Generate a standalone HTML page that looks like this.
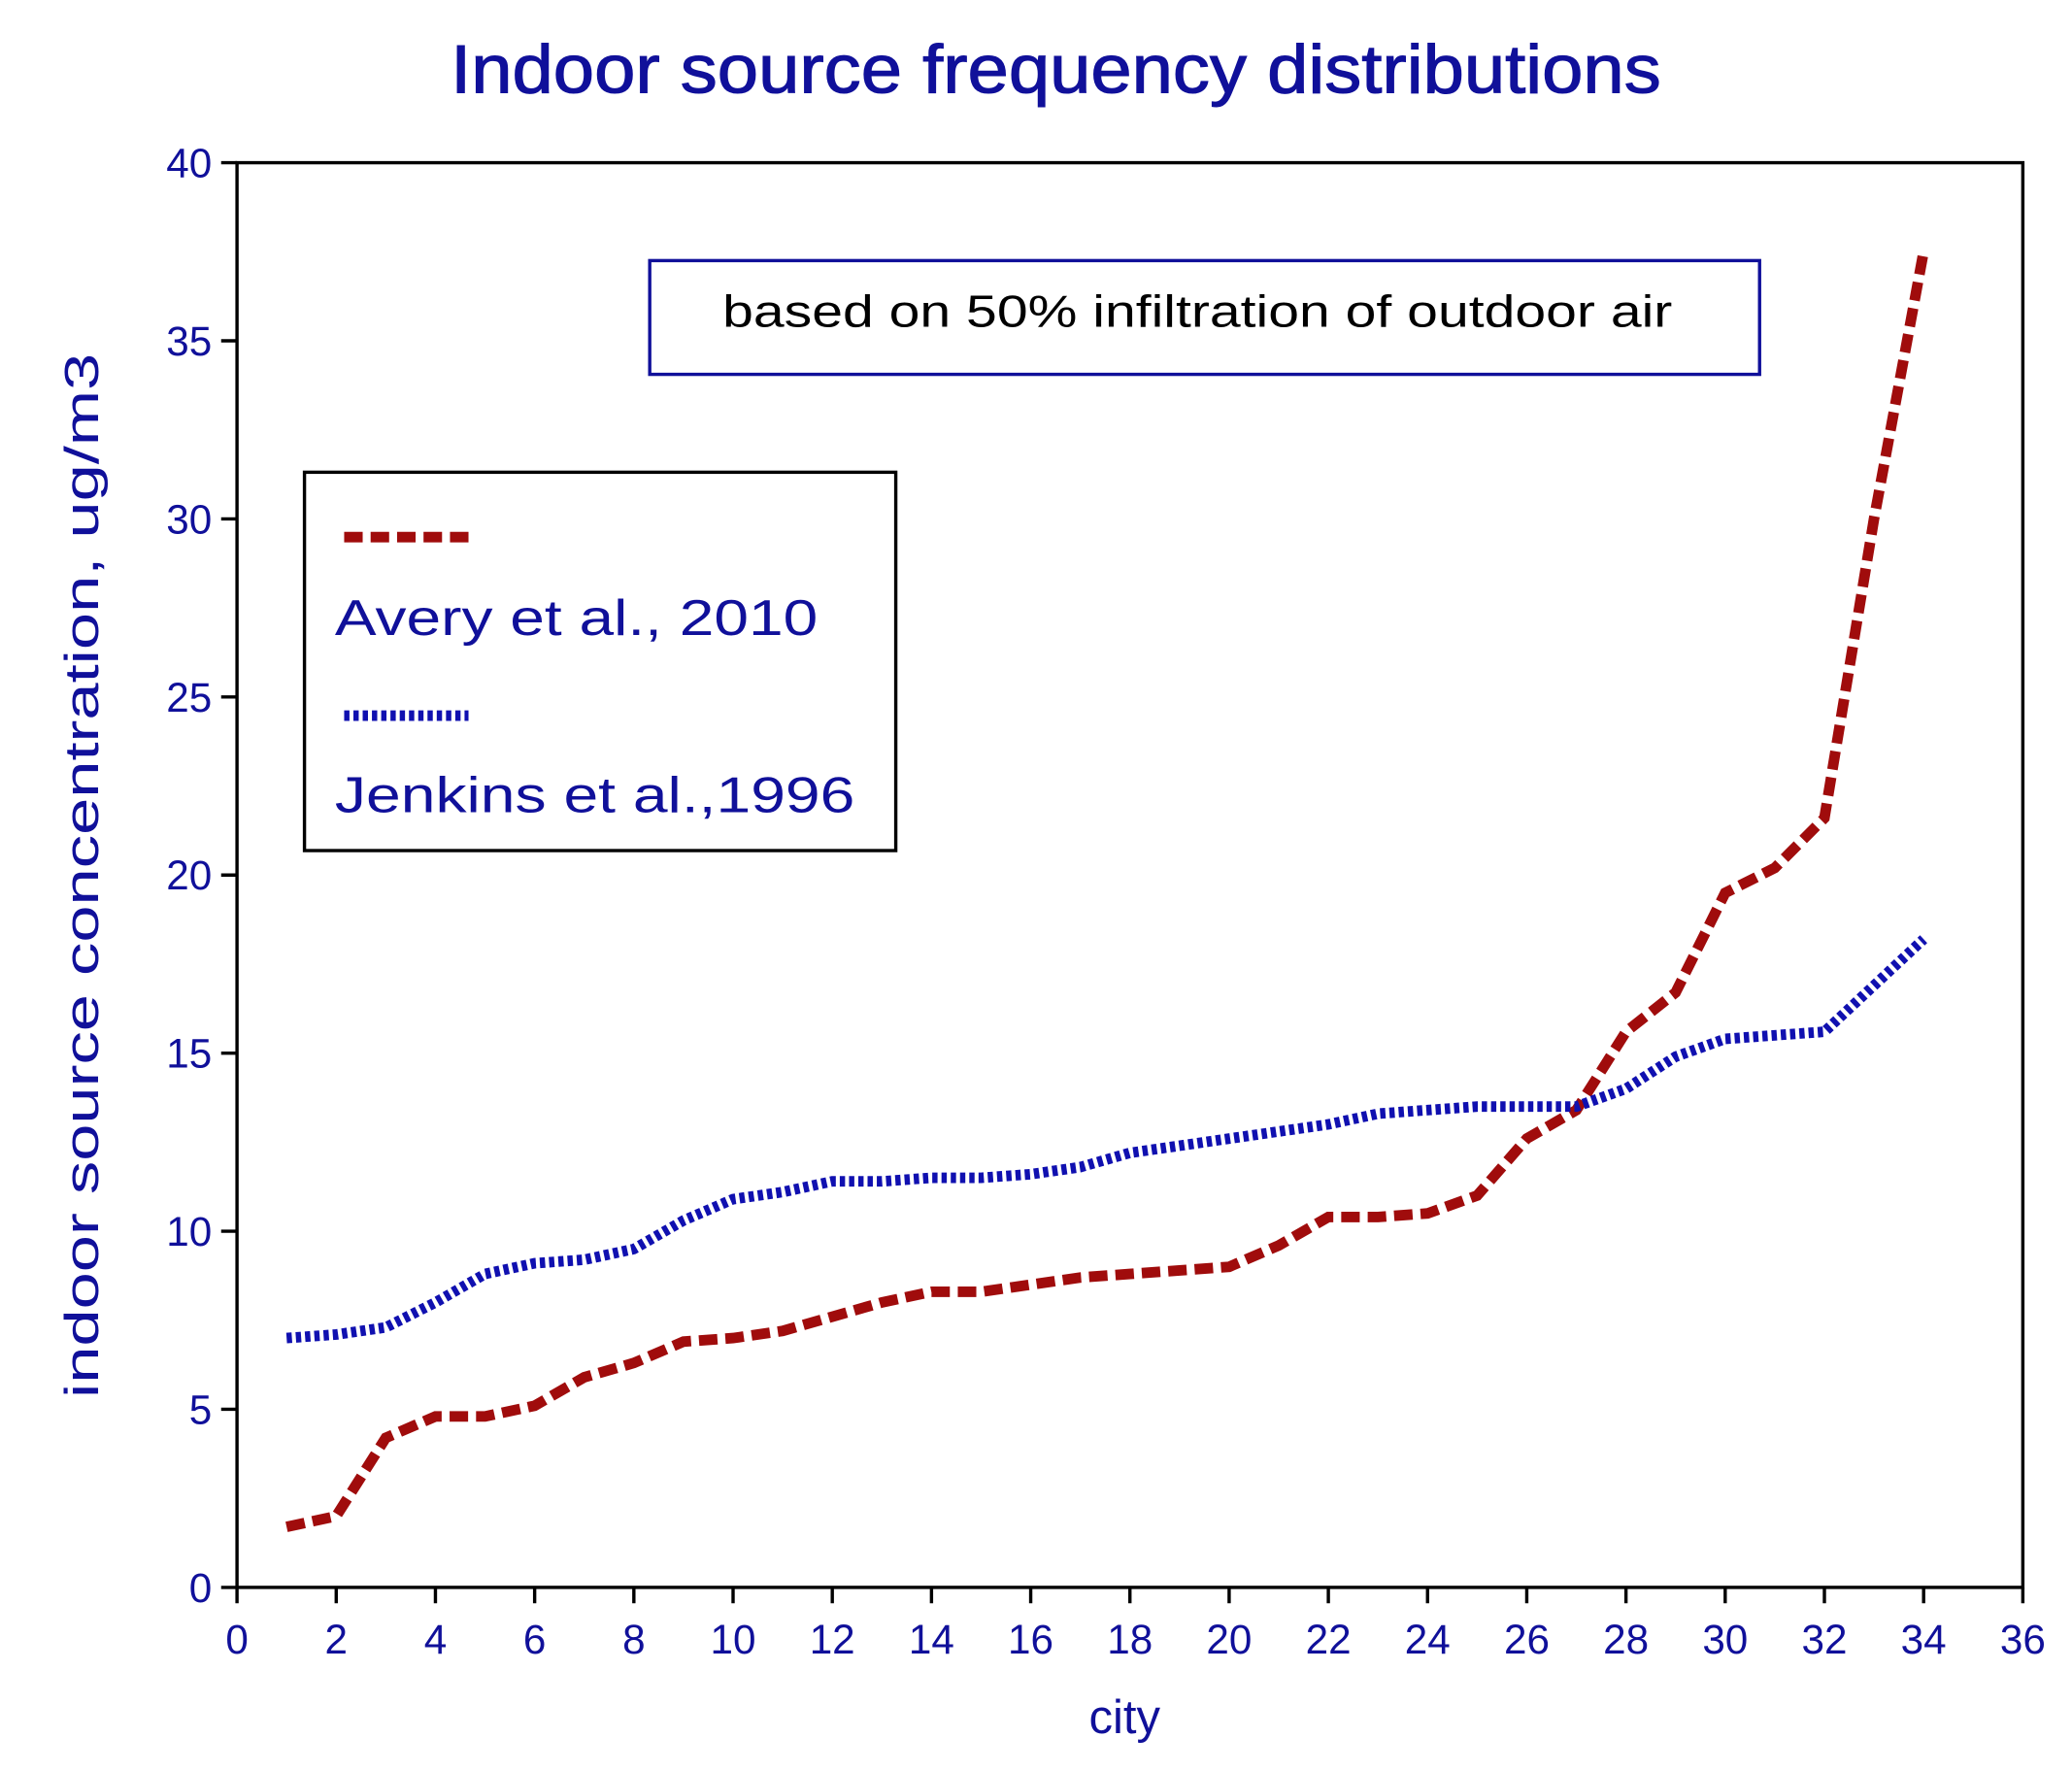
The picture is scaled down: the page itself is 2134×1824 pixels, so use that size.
<!DOCTYPE html>
<html><head><meta charset="utf-8"><style>
html,body{margin:0;padding:0;background:#fff;}
svg{display:block;}
text{font-family:"Liberation Sans",sans-serif;fill:#10109a;}
</style></head><body>
<svg id="chart" width="2134" height="1824" viewBox="0 0 1566 1338.8" xmlns="http://www.w3.org/2000/svg">
<text x="798" y="70" font-size="52" text-anchor="middle" textLength="915" lengthAdjust="spacingAndGlyphs" style="font-weight:normal;stroke:#10109a;stroke-width:0.8">Indoor source frequency distributions</text>
<rect x="179" y="123" width="1350" height="1077" fill="none" stroke="#000" stroke-width="2.5"/>
<g id="xticks"></g><g id="yticks"></g>
<text x="850" y="1310" font-size="36" text-anchor="middle">city</text>
<text transform="translate(74,662) rotate(-90)" font-size="36" text-anchor="middle" textLength="790" lengthAdjust="spacingAndGlyphs">indoor source concentration, ug/m3</text>
<g id="series"></g>
<rect x="491" y="197" width="839" height="86" fill="#fff" stroke="#10109a" stroke-width="2.5"/>
<text x="905" y="247" font-size="34" text-anchor="middle" style="fill:#000" textLength="718" lengthAdjust="spacingAndGlyphs">based on 50% infiltration of outdoor air</text>
<g>
<rect x="230" y="357" width="447" height="286" fill="#fff" stroke="#000" stroke-width="2.5"/>
<line x1="260" y1="406" x2="357" y2="406" stroke="#a00c0c" stroke-width="8" stroke-dasharray="14,6"/>
<text x="253" y="480" font-size="38" textLength="365" lengthAdjust="spacingAndGlyphs">Avery et al., 2010</text>
<line x1="260" y1="541" x2="354" y2="541" stroke="#1010b0" stroke-width="8" stroke-dasharray="4,3"/>
<text x="253" y="614" font-size="38" textLength="393" lengthAdjust="spacingAndGlyphs">Jenkins et al.,1996</text>
</g>
</svg>
<script>
const cities=[1,2,3,4,5,6,7,8,9,10,11,12,13,14,15,16,17,18,19,20,21,22,23,24,25,26,27,28,29,30,31,32,33,34];
const avery=[1.7,2.0,4.2,4.8,4.8,5.1,5.9,6.3,6.9,7.0,7.2,7.6,8.0,8.3,8.3,8.5,8.7,8.8,8.9,9.0,9.6,10.4,10.4,10.5,11.0,12.6,13.4,15.6,16.7,19.5,20.2,21.6,30.0,37.5];
const jenkins=[7.0,7.1,7.3,8.0,8.8,9.1,9.2,9.5,10.3,10.9,11.1,11.4,11.4,11.5,11.5,11.6,11.8,12.2,12.4,12.6,12.8,13.0,13.3,13.4,13.5,13.5,13.5,14.0,14.9,15.4,15.5,15.6,16.9,18.2];
const xTicks=[0,2,4,6,8,10,12,14,16,18,20,22,24,26,28,30,32,34,36];
const yTicks=[0,5,10,15,20,25,30,35,40];
const NS="http://www.w3.org/2000/svg";
const X=v=>179+v*(1350/36), Y=v=>1200-v*(1077/40);
function mk(t,a,p){const e=document.createElementNS(NS,t);for(const k in a)e.setAttribute(k,a[k]);p.appendChild(e);return e;}
const xg=document.getElementById('xticks'),yg=document.getElementById('yticks'),sg=document.getElementById('series');
xTicks.forEach(v=>{
 const l=mk('line',{x1:X(v),x2:X(v),y1:1200,y2:1212,stroke:'#000','stroke-width':2.5},xg);
 
 
 const t=mk('text',{x:X(v),y:1250,'font-size':31,'text-anchor':'middle'},xg);t.textContent=v;
 
 
});
yTicks.forEach(v=>{
 const l=mk('line',{x1:167,x2:179,y1:Y(v),y2:Y(v),stroke:'#000','stroke-width':2.5},yg);
 
 
 const t=mk('text',{x:160,y:Y(v)+11,'font-size':31,'text-anchor':'end'},yg);t.textContent=v;
 
 
});
const pa=mk('polyline',{points:cities.map((c,i)=>X(c)+','+Y(avery[i])).join(' '),fill:'none',stroke:'#a00c0c','stroke-width':8,'stroke-dasharray':'14,6'},sg);


const pj=mk('polyline',{points:cities.map((c,i)=>X(c)+','+Y(jenkins[i])).join(' '),fill:'none',stroke:'#1010b0','stroke-width':8,'stroke-dasharray':'4,3'},sg);


</script>
</body></html>
